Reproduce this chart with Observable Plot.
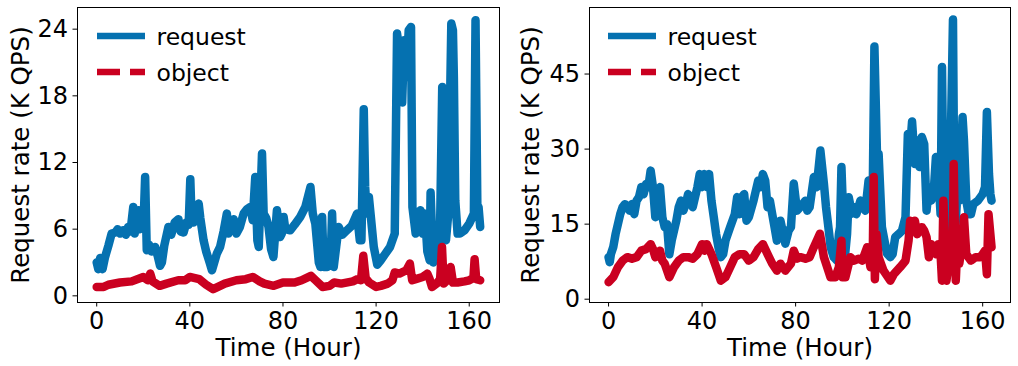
<!DOCTYPE html>
<html>
<head>
<meta charset="utf-8">
<script src="https://cdn.jsdelivr.net/npm/d3@7"></script>
<script src="https://cdn.jsdelivr.net/npm/@observablehq/plot@0.6"></script>
<style>
  body { margin: 0; background: #fff; }
  #wrap { position: relative; width: 1018px; height: 366px; display: flex; }
  #wrap > svg { flex: none; }
  .legend { position: absolute; top: 0; left: 0; pointer-events: none; }
</style>
</head>
<body>
<div id="wrap"></div>
<script>
// ---------- Left panel data ----------
const reqTimeA = [0,0.7,1.5,2.5,3.6,5,6.4,8,9,10,11.4,12.5,13.5,14.5,15.7,16.3,17.9,18.5,19.5,20.3,20.8,21.5,22.5,23.5,25.1,26.3,27.2,28,29,30.8,32,33.5,35.1,36,37.3,38.5,39.5,40.2,40.8,41.6,42.5,43.8,44.5,45.9,47,48.5,49.5,51.6,53,54.5,55.9,56.5,57.5,58.8,60,61.5,63.1,64.5,65.9,67,68.1,69,69.6,71.0,71.7,72.8,73.8,74.9,75.9,77.4,78.8,79.5,80.3,81,83.1,85,87.4,89.6,91.8,92.8,93.9,95.4,96.1,96.8,97.5,99,100.4,101.1,101.8,103.9,105.5,107.5,109.5,111.8,113,113.7,114.7,115.3,116,116.9,117.8,119,120.5,122,124,126,128,129,130,130.6,131.2,132,133,134,135,135.6,137,138,139,140,141,142,143,143.4,144.5,145.5,146,147,147.5,148.4,149,150,151,152.3,153,153.4,154,155,156,158,160,162,162.7,163.5,164,164.7];
const reqA = [3.0,2.4,3.4,2.4,3.5,4.5,5.6,5.7,6.0,5.6,5.9,5.5,6.2,5.8,8.0,5.6,7.7,6.0,7.5,7.6,10.7,4.1,4.6,4.0,4.4,3.5,2.7,3.0,4.5,6.2,5.5,6.6,6.9,5.8,5.7,6.6,6.4,10.5,6.6,6.6,7.2,8.3,7.0,5.0,4.0,3.0,2.3,3.8,4.4,5.8,7.4,5.6,6.6,6.9,5.6,6.2,7.4,7.8,8.0,6.8,10.7,5.0,4.4,12.8,7.4,7.0,6.2,4.2,3.5,7.7,5.3,5.6,7.1,6.0,5.9,6.4,7.1,8.0,9.8,7.4,6.5,3.0,2.6,7.1,2.6,2.6,2.8,7.4,2.6,6.2,5.5,5.9,6.3,7.4,5.0,5.0,16.8,9.8,7.4,8.9,7.0,4.4,2.8,3.2,3.8,4.4,5.6,23.6,22.0,21.5,17.4,23.0,19.7,23.9,24.2,8.0,5.6,5.9,7.7,5.6,7.4,4.0,3.2,9.3,3.0,5.0,5.6,4.4,6.5,18.8,5.6,5.0,7.4,24.5,23.9,19.7,8.6,5.6,5.6,5.9,6.5,7.4,24.8,7.7,8.0,6.2];
const objTimeA = [0,3,5,10,15,20,22,23,24,27,30,35,38,40,44,47,50,53,55,60,64,67,70,72,76,80,85,88,92,94,97,100,102,105,110,112,113.5,114.5,115.5,117,120,122,125,127,128,130,133,134.5,135.5,137,140,142,143,144,146,147.5,148.3,149,151,152,153,155,158,160,161.8,162.3,163,164.7];
const objA = [0.8,0.8,1.0,1.2,1.3,1.7,1.4,2.0,1.3,0.9,1.1,1.4,1.4,1.7,1.5,1.0,0.6,0.9,1.1,1.4,1.5,1.7,1.3,1.1,0.9,1.2,1.2,1.4,1.8,1.4,0.8,0.9,1.2,1.1,1.3,1.5,1.4,3.6,1.6,1.2,0.8,0.9,1.1,1.4,2.1,2.0,2.3,2.9,1.4,1.5,1.7,2.0,1.5,0.8,1.1,1.5,4.4,1.1,1.5,2.6,1.2,1.2,1.3,1.4,1.6,3.3,1.5,1.4];

// ---------- Right panel data ----------
const reqTimeB = [0,0.5,1,2,3,4,5,6,7,8,9,10,11,12,13,14,15,16,17,18,19,20,21,22,23,24,25,26,27,28,29,30,31,32,33,34,35,36,37,38,39,40,41,42,43,44,45,46,47,48,49,50,52,54,55,56,57,58,59,60,62,64,65,66,67,68,69,70,71,72,73,73.5,74.5,75.6,77,78,79.2,80.6,82,84.2,85,86,87.8,89,90.6,92.1,93,94.2,95,96.3,97.7,98.5,99,99.6,101,102,102.7,104.1,105,106,107.7,109.8,111.2,111.9,113,113.7,114.8,115.5,116.9,118,119.1,120.5,121.5,122.6,124,125.5,127,128,129,129.8,131,132,133,134,135,136,137,138,139,140,141,142,142.6,143.5,145,146,147.3,148,149,150,151.4,152,153,154,155,156,158,160,161,161.8,162.7,163.3,163.8];
const reqB = [8.4,7.4,9,10.4,13,15,17,18.4,19,18.4,17.7,19,17,19.7,20.4,22.4,21,23,22.4,25.7,22.4,16.4,19.7,22.4,16.4,14.4,15,9,11.7,13.7,15.7,18.4,19.7,17.7,19,21,19.7,18.4,20.4,22.4,25,22.4,25,22.4,25,19.7,16.4,13,10.4,8.4,9,11.7,14.4,17,20.4,17,20.4,21,15.7,16.4,19.7,23.7,22.4,25,23.7,18.4,19.7,17,14.4,11.7,13.7,15.7,13.5,11.1,13.7,14.4,23.1,17.7,18.4,19.7,17.7,18.4,24.4,22.4,29.7,23.1,18.4,13.7,10.4,8.4,7.7,13,14.4,26.4,8.1,13,20.4,17.1,18.4,17,19.7,17.7,23.7,18.4,22.4,50.5,29,29,14.4,11.7,9.1,8.4,9,12.4,13,13.7,16.4,33,30.4,35.5,27,31.7,26.4,32.4,31,17.7,22.4,19.7,21,28.4,25,17,46.4,11,19.7,22.4,55.9,11.7,19.7,19.7,36.4,31.7,19.7,17,17,19,19.7,21,22.4,37.4,25,21,19.7];
const objTimeB = [0,2,4,6,8,10,12,14,16,18,19,20,22,23,24,26,28,30,32,34,36,38,40,41,42,44,46,48,50,52,54,56,58,60,62,64,66,68,70,72,73.5,75.6,78,79.2,80.6,82,84.2,86,87.8,90.4,92.1,94.9,97,98.5,99.6,100,101.3,103.4,105,107,108.5,110.6,112,113,113.4,113.9,114.6,115.5,117.6,120.5,122,124.7,127,128.3,129,130,131,132,134,135,136,137,138,140,141,142,142.6,143.2,144.5,146,147.2,147.6,148.5,149,150,151,152,153,155,157,159,160,161,161.8,162.5,163.8];
const objB = [3.4,4.4,6.4,7.7,8.4,8.1,8.4,9.7,10,11,10,8.4,9.7,7.7,7.1,4.4,6.4,7.7,8.4,8.4,8.1,9,11,9.7,11,9,6.4,3.7,4.4,6.4,8.4,9,9,7.7,8.4,10,11,9,7.1,5.7,7.1,5.7,7.1,9.7,8.1,8.4,8.1,8.4,10.4,13.1,8.4,4.4,4.4,6.4,11.7,4.4,4.4,8.4,7.7,8.1,7.7,10.4,6.4,9,24.4,4.0,13,8.4,5.7,3.7,5,6.4,7.7,11.7,15.7,14.4,15.7,13,14.4,13.7,12.4,8.4,11,9,11,9,3.7,19.7,3.7,9,7.1,27,3.7,9,7.1,10.4,16.4,9,7.7,8.4,8.4,9,9.7,5,17,10.4,9];

// ---------- Ticks / labels ----------
const xTicks = [0, 40, 80, 120, 160];
const yTicksA = [0, 6, 12, 18, 24];
const yTicksB = [0, 15, 30, 45];
const xLabel = "Time (Hour)";
const yLabel = "Request rate (K QPS)";
const seriesNames = ["request", "object"];
const colors = { request: "#0571b0", object: "#ca0020" };

function panel({reqT, reqV, objT, objV, xDomain, yDomain, yTicks, width, marginLeft, marginRight, ylabDx}) {
  const req = reqT.map((t, i) => ({t, v: reqV[i]}));
  const obj = objT.map((t, i) => ({t, v: objV[i]}));
  return Plot.plot({
    width, height: 366,
    marginLeft, marginRight, marginTop: 7, marginBottom: 64,
    style: {fontFamily: "DejaVu Sans", fontSize: "24px", color: "#000", background: "transparent", overflow: "visible"},
    x: {domain: xDomain},
    y: {domain: yDomain},
    marks: [
      Plot.line(req, {x: "t", y: "v", stroke: colors.request, strokeWidth: 8.5, strokeLinejoin: "round", strokeLinecap: "round"}),
      Plot.line(obj, {x: "t", y: "v", stroke: colors.object, strokeWidth: 8.5, strokeLinejoin: "round", strokeLinecap: "round"}),
      Plot.frame({stroke: "#000", strokeWidth: 1}),
      Plot.axisX({ticks: xTicks, tickSize: 4.5, tickPadding: 5, label: null, fontSize: 24}),
      Plot.axisY({ticks: yTicks, tickSize: 4.5, tickPadding: 5, label: null, fontSize: 24}),
      Plot.text([xLabel], {text: d => d, frameAnchor: "bottom", dy: 46, fontSize: 24.5, textAnchor: "middle", lineAnchor: "middle"}),
      Plot.text([yLabel], {text: d => d, frameAnchor: "left", dx: ylabDx, rotate: -90, fontSize: 24.5, textAnchor: "middle", lineAnchor: "middle"})
    ]
  });
}

const wrap = document.getElementById("wrap");
wrap.append(panel({
  reqT: reqTimeA, reqV: reqA, objT: objTimeA, objV: objA,
  xDomain: [-8.25, 173.0], yDomain: [-0.6, 25.95], yTicks: yTicksA,
  width: 509, marginLeft: 77, marginRight: 10, ylabDx: -56
}));
wrap.append(panel({
  reqT: reqTimeB, reqV: reqB, objT: objTimeB, objV: objB,
  xDomain: [-8.15, 171.9], yDomain: [-0.66, 58.3], yTicks: yTicksB,
  width: 509, marginLeft: 80, marginRight: 8, ylabDx: -58
}));

// ---------- Legends (overlay) ----------
function legend(x0) {
  const ns = "http://www.w3.org/2000/svg";
  const svg = document.createElementNS(ns, "svg");
  svg.setAttribute("class", "legend");
  svg.setAttribute("width", 1018);
  svg.setAttribute("height", 366);
  svg.innerHTML = `
    <line x1="${x0}" x2="${x0 + 48}" y1="36" y2="36" stroke="${colors.request}" stroke-width="6.5"/>
    <line x1="${x0}" x2="${x0 + 48}" y1="72" y2="72" stroke="${colors.object}" stroke-width="6.5" stroke-dasharray="23,10"/>
    <text x="${x0 + 59.5}" y="45" font-family="DejaVu Sans" font-size="23.5" fill="#000">${seriesNames[0]}</text>
    <text x="${x0 + 59.5}" y="80.7" font-family="DejaVu Sans" font-size="23.5" fill="#000">${seriesNames[1]}</text>`;
  return svg;
}
wrap.append(legend(97));
wrap.append(legend(608));
</script>
</body>
</html>
